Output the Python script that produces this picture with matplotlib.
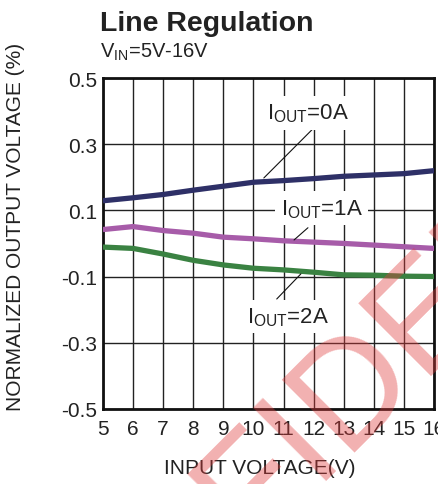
import numpy as np
import matplotlib
matplotlib.use("Agg")
import matplotlib.pyplot as plt

plt.rcParams["font.family"] = ["Liberation Sans", "DejaVu Sans"]
plt.rcParams["mathtext.fontset"] = "custom"
plt.rcParams["mathtext.rm"] = "Liberation Sans"
plt.rcParams["mathtext.it"] = "Liberation Sans"

# data
vin = [5, 6, 7, 8, 9, 10, 11, 12, 13, 14, 15, 16]
iout_0a = [0.129, 0.138, 0.148, 0.161, 0.173, 0.185, 0.190, 0.196, 0.203, 0.207, 0.211, 0.220]
iout_1a = [0.042, 0.051, 0.039, 0.031, 0.019, 0.014, 0.008, 0.004, 0.000, -0.005, -0.010, -0.015]
iout_2a = [-0.011, -0.015, -0.032, -0.051, -0.065, -0.075, -0.080, -0.087, -0.095, -0.096, -0.099, -0.100]
yticks = [-0.5, -0.3, -0.1, 0.1, 0.3, 0.5]
ytick_labels = ["-0.5", "-0.3", "-0.1", "0.1", "0.3", "0.5"]

fig = plt.figure(figsize=(4.38, 4.85), dpi=100)
ax = fig.add_axes([0.235, 0.155, 0.756, 0.682])

ax.plot(vin, iout_0a, color="#2e3067", lw=3.8, solid_capstyle="butt", zorder=3)
ax.plot(vin, iout_1a, color="#a75ca9", lw=3.8, solid_capstyle="butt", zorder=3)
ax.plot(vin, iout_2a, color="#3a8242", lw=3.8, solid_capstyle="butt", zorder=3)

ax.set_xlim(5, 16)
ax.set_ylim(-0.5, 0.5)
ax.set_xticks(vin)
ax.set_yticks(yticks)
ax.set_yticklabels(ytick_labels)
ax.tick_params(length=0, labelsize=15, colors="#222222")
ax.tick_params(axis="x", pad=7)
ax.tick_params(axis="y", pad=4)
ax.grid(True, color="#222222", lw=1.0)
for s in ax.spines.values():
    s.set_linewidth(2)
    s.set_color("#111111")

ax.set_xlabel("INPUT VOLTAGE(V)", fontsize=15, color="#222222")
ax.set_ylabel("NORMALIZED OUTPUT VOLTAGE (%)", fontsize=15, color="#222222")
ax.xaxis.set_label_coords(0.473, -0.148)
ax.yaxis.set_label_coords(-0.236, 0.553)

box = dict(facecolor="white", edgecolor="none", pad=4)
lbl = dict(fontsize=16, color="#222222", ha="left", va="baseline", zorder=4, bbox=box)
ax.annotate("", xy=(10.28, 0.192), xytext=(12.2, 0.367),
            arrowprops=dict(arrowstyle="-", color="#111111", lw=0.8))
ax.text(10.44, 0.378, "I$_{\\mathrm{OUT}}$=0A", **lbl)
ax.annotate("", xy=(11.28, 0.005), xytext=(11.88, 0.053),
            arrowprops=dict(arrowstyle="-", color="#111111", lw=0.8))
ax.text(10.9, 0.089, "I$_{\\mathrm{OUT}}$=1A", **lbl)
ax.annotate("", xy=(11.64, -0.086), xytext=(10.71, -0.174),
            arrowprops=dict(arrowstyle="-", color="#111111", lw=0.8))
ax.text(9.77, -0.238, "I$_{\\mathrm{OUT}}$=2A", **lbl)

fig.text(0.228, 0.95, "Line Regulation", fontsize=20.5, fontweight="bold",
         color="#222222", ha="left", va="center")
fig.text(0.228, 0.893, "V$_{\\mathrm{IN}}$=5V-16V", fontsize=14.5,
         color="#222222", ha="left", va="center")

# watermark
fig.text(0.034, -0.619, "CONFIDENTIAL", fontsize=108, color="#e03c3c", alpha=0.4,
         rotation=45, rotation_mode="anchor", ha="left", va="baseline", zorder=10)

fig.savefig("out.png", dpi=100)
